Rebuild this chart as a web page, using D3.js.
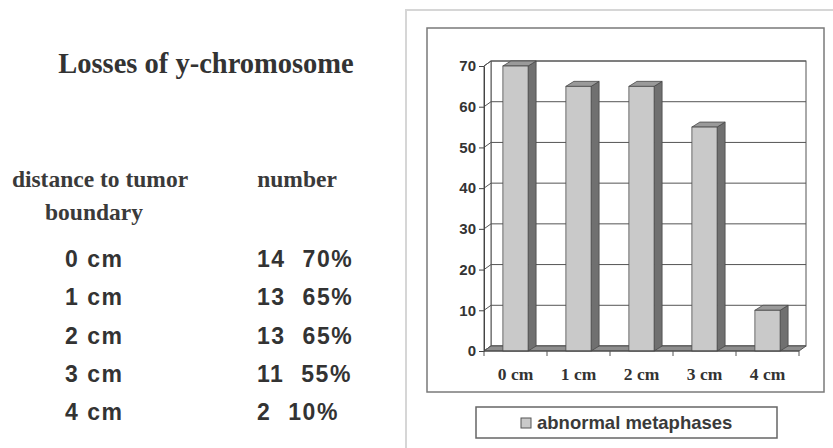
<!DOCTYPE html>
<html><head><meta charset="utf-8">
<script src="https://cdn.jsdelivr.net/npm/d3@7"></script>
<style>html,body{margin:0;padding:0;background:#fff;}svg{display:block;}</style>
</head><body>
<script>
// ---- data ----
const categories = ["0 cm", "1 cm", "2 cm", "3 cm", "4 cm"];
const values = [70, 65, 65, 55, 10];
const yTicks = [0, 10, 20, 30, 40, 50, 60, 70];
const seriesName = "abnormal metaphases";
const tableDistances = ["0 cm", "1 cm", "2 cm", "3 cm", "4 cm"];
const tableCounts = [14, 13, 13, 11, 2];
const tablePercents = ["70%", "65%", "65%", "55%", "10%"];
const titleText = "Losses of y-chromosome";

const W = 833, H = 448;
const svg = d3.select("body").append("svg").attr("width", W).attr("height", H);

// ---- left text table ----
const serif = "'Liberation Serif','Times New Roman',serif";
const sans = "'Liberation Sans',Arial,sans-serif";
svg.append("text").attr("x", 206).attr("y", 73).attr("text-anchor", "middle")
  .attr("font-family", serif).attr("font-weight", "bold").attr("font-size", 28.5)
  .attr("fill", "#333").text(titleText);
svg.append("text").attr("x", 100).attr("y", 187).attr("text-anchor", "middle")
  .attr("font-family", serif).attr("font-weight", "bold").attr("font-size", 23.5)
  .attr("fill", "#3a3a3a").text("distance to tumor");
svg.append("text").attr("x", 94).attr("y", 220).attr("text-anchor", "middle")
  .attr("font-family", serif).attr("font-weight", "bold").attr("font-size", 23.5)
  .attr("fill", "#3a3a3a").text("boundary");
svg.append("text").attr("x", 297).attr("y", 187).attr("text-anchor", "middle")
  .attr("font-family", serif).attr("font-weight", "bold").attr("font-size", 23.5)
  .attr("fill", "#3a3a3a").text("number");

const rowY = d3.scalePoint().domain(d3.range(tableDistances.length)).range([267, 420]);
const rows = svg.append("g").selectAll("g").data(tableDistances).join("g")
  .attr("transform", (d, i) => `translate(0,${rowY(i)})`)
  .attr("font-family", sans).attr("font-weight", "bold").attr("font-size", 23)
  .attr("fill", "#333").attr("letter-spacing", 1.5);
rows.append("text").attr("x", 65).text(d => d);
rows.each(function (d, i) {
  const g = d3.select(this);
  const t = g.append("text").attr("x", 257).text(tableCounts[i]);
  const w = t.node().getComputedTextLength();
  g.append("text").attr("x", 257 + w + 17).text(tablePercents[i]);
});

// ---- chart frame ----
svg.append("rect").attr("x", 406).attr("y", 10).attr("width", 440).attr("height", 450)
  .attr("fill", "none").attr("stroke", "#d6d6d6").attr("stroke-width", 2);
svg.append("rect").attr("x", 427).attr("y", 28).attr("width", 397).attr("height", 364)
  .attr("fill", "#fff").attr("stroke", "#7a7a7a").attr("stroke-width", 1.5);

// ---- 3D column chart ----
const DX = 7, DY = -5;     // wall depth
const BDX = 8, BDY = -5;   // bar depth
const x = d3.scaleBand().domain(categories).range([484, 799]).padding(0);
const y = d3.scaleLinear().domain([0, 70]).range([351, 66]);
const barW = x.bandwidth() * 0.4;
const x0 = x.range()[0], x1 = x.range()[1];
const chart = svg.append("g");
const line = d3.line();

// back wall
chart.append("rect").attr("x", x0 + DX).attr("y", y(70) + DY)
  .attr("width", x1 - x0).attr("height", y(0) - y(70))
  .attr("fill", "#fff").attr("stroke", "#555").attr("stroke-width", 1);
chart.append("g").selectAll("line").data(yTicks).join("line")
  .attr("x1", x0 + DX).attr("x2", x1 + DX)
  .attr("y1", d => y(d) + DY).attr("y2", d => y(d) + DY)
  .attr("stroke", "#555").attr("stroke-width", 1);
// side wall
chart.append("path").attr("d", line([[x0, y(0)], [x0, y(70)], [x0 + DX, y(70) + DY], [x0 + DX, y(0) + DY]]) + "Z")
  .attr("fill", "#fff").attr("stroke", "#555").attr("stroke-width", 1);
chart.append("g").selectAll("path").data(yTicks).join("path")
  .attr("d", d => line([[x0, y(d)], [x0 + DX, y(d) + DY]]))
  .attr("stroke", "#555").attr("fill", "none");
// floor
chart.append("path").attr("d", line([[x0, y(0)], [x1, y(0)], [x1 + DX, y(0) + DY], [x0 + DX, y(0) + DY]]) + "Z")
  .attr("fill", "#8e8e8e").attr("stroke", "#555").attr("stroke-width", 1);

// bars
const bars = chart.append("g").selectAll("g").data(categories).join("g");
bars.each(function (c, i) {
  const g = d3.select(this);
  const bx = x(c) + (x.bandwidth() - barW) / 2;
  const top = y(values[i]), bot = y(0);
  g.append("path").attr("d", line([[bx + barW, bot], [bx + barW, top], [bx + barW + BDX, top + BDY], [bx + barW + BDX, bot + BDY]]) + "Z")
    .attr("fill", "#707070").attr("stroke", "#4a4a4a").attr("stroke-width", 0.8);
  g.append("path").attr("d", line([[bx, top], [bx + BDX, top + BDY], [bx + barW + BDX, top + BDY], [bx + barW, top]]) + "Z")
    .attr("fill", "#9a9a9a").attr("stroke", "#4a4a4a").attr("stroke-width", 0.8);
  g.append("rect").attr("x", bx).attr("y", top).attr("width", barW).attr("height", bot - top)
    .attr("fill", "#c9c9c9").attr("stroke", "#4a4a4a").attr("stroke-width", 0.8);
});

// y axis (front)
const yAxis = d3.axisLeft(y).tickValues(yTicks).tickSize(5).tickSizeOuter(0).tickPadding(3);
const yg = chart.append("g").attr("transform", `translate(${x0},0)`).call(yAxis);
yg.select(".domain").attr("stroke", "#444");
yg.selectAll(".tick line").attr("stroke", "#444");
yg.selectAll("text").attr("font-family", sans).attr("font-weight", "bold")
  .attr("font-size", 15).attr("fill", "#333");

// x axis (front floor edge)
const xg = chart.append("g").attr("transform", `translate(0,${y(0)})`);
xg.append("line").attr("x1", x0).attr("x2", x1).attr("y1", 0).attr("y2", 0).attr("stroke", "#444");
xg.selectAll("line.tk").data(categories.concat(["end"])).join("line").attr("class", "tk")
  .attr("x1", (d, i) => i < categories.length ? x(d) : x1)
  .attr("x2", (d, i) => i < categories.length ? x(d) : x1)
  .attr("y1", 0).attr("y2", 5).attr("stroke", "#555");
xg.selectAll("text").data(categories).join("text")
  .attr("x", d => x(d) + x.bandwidth() / 2).attr("y", 29).attr("text-anchor", "middle")
  .attr("font-family", serif).attr("font-weight", "bold").attr("font-size", 17.5)
  .attr("fill", "#333").text(d => d);

// legend
const lg = svg.append("g");
lg.append("rect").attr("x", 476).attr("y", 407).attr("width", 301).attr("height", 31)
  .attr("fill", "#fff").attr("stroke", "#666").attr("stroke-width", 1.5);
lg.append("rect").attr("x", 521).attr("y", 418).attr("width", 10).attr("height", 10)
  .attr("fill", "#c9c9c9").attr("stroke", "#555").attr("stroke-width", 1);
lg.append("text").attr("x", 537).attr("y", 429)
  .attr("font-family", sans).attr("font-weight", "bold").attr("font-size", 18.5)
  .attr("fill", "#3a3a3a").text(seriesName);
</script>
</body></html>
